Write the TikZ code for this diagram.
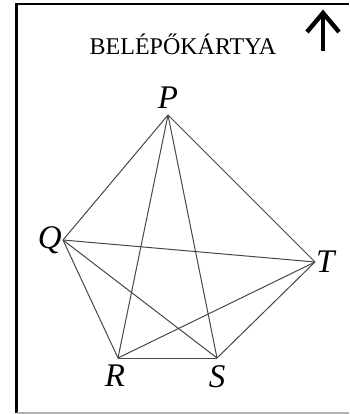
\documentclass[tikz,border=0pt]{standalone}
\usepackage{fontspec}
\setmainfont{Liberation Serif}
\usetikzlibrary{arrows.meta,calc,positioning}

\tikzset{
  edge/.style={draw=black!72, line width=1pt},
  lbl/.style={font=\fontsize{33}{33}\selectfont\itshape, inner sep=0pt},
}

\begin{document}
\begin{tikzpicture}[x=1pt, y=-1pt, >=Stealth]
  \useasboundingbox (0,0) rectangle (349,414);
  % frame of the card
  \draw[line width=2.6pt] (16.2,413) -- (16.2,4) -- (349,4);
  \draw[black!30, line width=1.2pt] (17.4,413) -- (349,413);
  % title and north arrow
  \node[font=\fontsize{24}{24}\selectfont, inner sep=0pt] (title) at (183,44) {BELÉPŐKÁRTYA};
  \coordinate (tail) at (323,51);
  \coordinate (tip) at (323,13);
  \draw[line width=4.4pt] (tail) -- (tip);
  \draw[line width=4.4pt, line join=miter] ($(tip)+(-16,19)$) -- (tip) -- ($(tip)+(16,19)$);
  % vertices
  \coordinate (P) at (168,115);
  \coordinate (Q) at (63,240);
  \coordinate (T) at (315,262);
  \coordinate (R) at (118,358);
  \coordinate (S) at (217,358);
  \node[lbl, above=6pt of P] (Plbl) {P};
  \node[lbl, left=1pt of Q] (Qlbl) {Q};
  \node[lbl, right=1pt of T] (Tlbl) {T};
  \node[lbl, below=7pt of R, xshift=-3pt] (Rlbl) {R};
  \node[lbl, below=7pt of S] (Slbl) {S};
  % all ten segments
  \foreach \a/\b in {P/Q,P/R,P/S,P/T,Q/R,Q/S,Q/T,R/S,R/T,S/T}
    \draw[edge] (\a) -- (\b);
\end{tikzpicture}
\end{document}
